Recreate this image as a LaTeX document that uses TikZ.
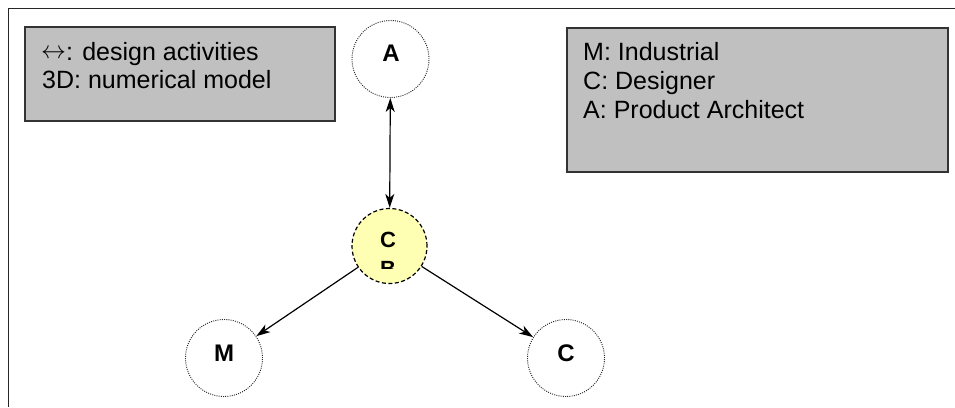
\documentclass[tikz,border=0pt]{standalone}
\usepackage{fontspec}
\setmainfont{Liberation Sans}
\usetikzlibrary{arrows.meta}
\definecolor{boxgray}{HTML}{C0C0C0}
\definecolor{paleyellow}{HTML}{FFFFB4}
\tikzset{
  tip/.tip={Stealth[length=14pt,width=9pt,inset=4pt]},
}
\begin{document}
\begin{tikzpicture}[x=1pt,y=-1pt,
  legend/.style={draw=black!80,line width=1.2pt,fill=boxgray,rectangle,inner sep=0pt},
  legtext/.style={anchor=base west,inner sep=0pt,font=\fontsize{25}{29}\selectfont},
  actor/.style={circle,draw=black!85,line width=0.9pt,dash pattern=on 1pt off 1.2pt,minimum size=77pt,inner sep=0pt},
  hub/.style={circle,draw=black,fill=paleyellow,line width=1.2pt,dash pattern=on 4pt off 2.5pt,minimum size=75pt,inner sep=0pt},
  actorlabel/.style={anchor=base,inner sep=0pt,font=\fontsize{24}{28}\bfseries\selectfont},
  hublabel/.style={anchor=base,inner sep=0pt,font=\fontsize{22}{26}\bfseries\selectfont},
  link/.style={line width=1.2pt,-tip},
  duallink/.style={line width=1.2pt,tip-tip},
]
\useasboundingbox (0,0) rectangle (955,407);
\draw[line width=1.3pt,black!85] (955,8.5) -- (8.5,8.5) -- (8.5,407);

% legends
\node[legend,minimum width=310pt,minimum height=94pt] (legl) at (180,74) {};
\node[legend,minimum width=381pt,minimum height=144pt] (legr) at (757.5,100) {};
\node[legtext] (legl1) at (41,60) {\raisebox{1.5pt}{$\leftrightarrow$}: design activities};
\node[legtext] (legl2) at (42,88.5) {3D: numerical model};
\node[legtext] (legr1) at (583,60) {M: Industrial};
\node[legtext] (legr2) at (583,89) {C: Designer};
\node[legtext] (legr3) at (583,118) {A: Product Architect};

% actors
\node[actor] (a) at (390.5,59) {};
\node[actor] (m) at (224,358) {};
\node[actor] (c) at (566,358) {};
\node[hub] (cp) at (389.5,246) {};

\node[actorlabel] (alab) at (391,61) {A};
\node[actorlabel] (mlab) at (224,361.7) {M};
\node[actorlabel] (clab) at (566,361.7) {C};
\node[hublabel] (cplab) at (388,247) {C};
\begin{scope}
  \clip (360,250) rectangle (420,268);
  \node[hublabel] (cplab2) at (388,276) {B};
\end{scope}

% connectors
\draw[duallink] (cp) -- (a);
\draw[link] (cp) -- (m);
\draw[link] (cp) -- (c);
\end{tikzpicture}
\end{document}
